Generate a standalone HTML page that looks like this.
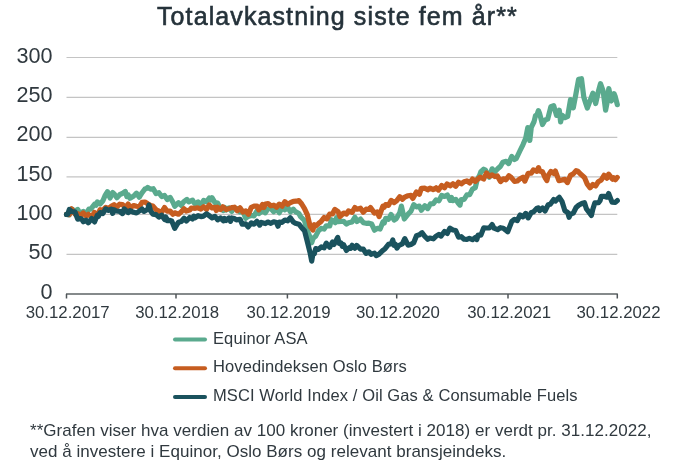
<!DOCTYPE html>
<html><head><meta charset="utf-8"><style>
html,body{margin:0;padding:0;background:#fff;}
body{width:681px;height:467px;position:relative;overflow:hidden;will-change:transform;font-family:"Liberation Sans",sans-serif;color:#30393f;}
.t{position:absolute;white-space:nowrap;}
#title{left:157px;top:1px;font-size:25px;letter-spacing:1.1px;color:#25323a;line-height:30px;-webkit-text-stroke:0.6px #25323a;}
.yl{position:absolute;left:0;width:52.5px;text-align:right;font-size:21.6px;line-height:24px;}
.xl{position:absolute;top:301px;width:120px;text-align:center;font-size:16.8px;line-height:24px;}
.lg{position:absolute;left:213px;font-size:16.5px;line-height:20px;letter-spacing:0.1px;}
.fn{position:absolute;left:30px;font-size:17px;line-height:20px;letter-spacing:0.03px;}
svg{position:absolute;left:0;top:0;}
</style></head><body>
<div class="t" id="title">Totalavkastning siste fem år**</div>
<svg width="681" height="467" viewBox="0 0 681 467">
<line x1="66.5" y1="254.45" x2="617.3" y2="254.45" stroke="#c4c4c4" stroke-width="1.2"/><line x1="66.5" y1="214.40" x2="617.3" y2="214.40" stroke="#c4c4c4" stroke-width="1.2"/><line x1="66.5" y1="176.90" x2="617.3" y2="176.90" stroke="#c4c4c4" stroke-width="1.2"/><line x1="66.5" y1="137.35" x2="617.3" y2="137.35" stroke="#c4c4c4" stroke-width="1.2"/><line x1="66.5" y1="97.45" x2="617.3" y2="97.45" stroke="#c4c4c4" stroke-width="1.2"/><line x1="66.5" y1="57.50" x2="617.3" y2="57.50" stroke="#c4c4c4" stroke-width="1.2"/>
<path d="M66.5,214.4 L69.3,215.0 L72.1,209.1 L74.9,211.4 L77.7,209.4 L79.3,212.2 L80.5,213.5 L83.3,211.4 L85.7,214.4 L88.9,209.2 L90.8,209.1 L94.5,204.2 L96.0,205.2 L97.3,201.9 L100.1,204.0 L102.9,200.7 L105.0,195.7 L107.5,191.7 L110.1,198.0 L111.3,195.2 L112.7,192.5 L114.1,193.9 L116.9,197.7 L119.7,194.7 L122.5,193.3 L125.3,191.4 L126.8,196.6 L128.1,194.7 L130.0,198.3 L133.7,196.0 L136.5,193.2 L139.3,197.2 L142.1,192.7 L144.9,189.0 L146.4,188.6 L147.7,187.4 L150.5,189.1 L153.3,188.7 L156.1,193.6 L158.9,192.7 L161.7,196.5 L164.5,195.5 L167.3,199.5 L170.1,197.4 L172.9,202.3 L174.7,206.3 L178.5,202.7 L181.3,205.4 L183.6,201.8 L186.9,199.5 L188.8,201.8 L192.5,200.1 L193.9,202.5 L195.3,204.1 L198.1,201.9 L200.9,205.0 L203.7,200.4 L206.5,201.8 L209.3,197.9 L210.7,200.0 L212.1,197.7 L214.9,202.6 L217.7,203.1 L220.5,208.7 L223.3,210.5 L224.6,207.4 L226.1,209.9 L228.9,207.9 L231.7,211.5 L233.4,209.2 L237.3,208.7 L240.1,212.0 L242.9,211.4 L245.7,218.3 L248.1,216.4 L251.3,215.5 L254.0,215.9 L256.9,211.1 L258.8,213.6 L262.5,210.9 L265.3,212.8 L267.8,209.0 L270.9,208.5 L273.7,211.7 L276.5,209.0 L279.3,212.8 L282.1,207.9 L284.9,209.8 L287.7,207.3 L290.5,212.0 L293.3,209.2 L295.4,211.6 L298.9,213.5 L300.6,216.7 L304.5,220.5 L307.3,230.6 L310.0,237.0 L311.7,242.8 L312.9,238.9 L314.3,237.2 L315.7,236.1 L318.5,230.6 L321.3,228.4 L324.1,229.1 L326.3,225.8 L329.7,226.0 L331.4,219.7 L335.3,222.7 L336.5,217.7 L338.1,221.6 L340.9,221.3 L343.7,221.4 L346.5,224.1 L348.5,222.8 L352.1,221.9 L354.9,217.3 L357.1,221.5 L360.5,219.1 L363.3,222.7 L366.1,223.3 L368.9,223.2 L371.7,224.1 L374.5,230.2 L377.3,228.3 L380.1,229.1 L382.9,222.0 L384.2,223.1 L385.7,218.3 L388.5,219.3 L391.1,214.5 L394.1,220.1 L396.2,218.8 L399.7,212.8 L401.4,206.1 L404.3,219.0 L408.1,214.1 L410.9,211.2 L413.7,204.7 L415.0,205.6 L416.5,206.9 L419.3,206.1 L421.4,210.2 L424.9,205.7 L427.7,208.6 L430.5,203.8 L433.3,203.6 L436.1,199.9 L438.9,200.9 L441.7,195.4 L444.5,196.5 L447.3,194.9 L450.1,200.4 L451.4,197.4 L452.9,200.6 L455.7,199.3 L458.5,203.5 L460.0,205.1 L461.3,199.5 L464.1,199.3 L466.9,194.8 L469.7,194.6 L472.5,189.1 L475.3,187.7 L477.1,179.8 L479.6,175.4 L480.9,171.7 L483.7,169.2 L485.4,170.1 L489.3,177.2 L492.1,168.8 L494.9,171.8 L497.7,168.8 L500.5,166.3 L502.8,162.3 L506.1,161.3 L508.6,163.6 L511.7,156.5 L514.5,159.5 L516.3,158.5 L520.1,150.5 L522.9,144.8 L525.7,138.2 L527.8,127.6 L529.8,140.5 L531.3,127.3 L534.1,121.5 L535.5,115.7 L536.9,115.0 L538.4,110.6 L539.7,113.8 L542.5,124.5 L545.1,119.9 L547.7,119.1 L550.9,106.7 L553.7,105.6 L556.5,115.4 L559.3,110.3 L560.6,121.9 L562.1,115.3 L564.9,117.7 L567.7,116.3 L570.5,99.6 L573.3,107.8 L576.0,93.4 L578.6,79.3 L581.5,78.7 L583.8,97.1 L585.7,103.1 L587.3,108.0 L590.1,100.6 L592.9,93.1 L595.7,103.5 L598.5,90.9 L600.5,83.7 L603.1,90.8 L605.6,110.2 L606.9,103.8 L608.8,88.5 L611.4,101.0 L614.0,93.6 L615.3,96.8 L617.3,104.7" fill="none" stroke="#5aaa8e" stroke-width="5.2" stroke-linejoin="round" stroke-linecap="round"/><path d="M66.5,214.4 L69.3,214.6 L71.6,208.8 L74.9,213.9 L77.7,213.5 L80.5,215.7 L83.3,212.9 L86.1,215.9 L88.3,214.2 L91.7,216.9 L94.5,212.5 L97.2,216.2 L100.1,209.6 L102.4,210.7 L105.7,207.3 L108.5,208.6 L111.3,206.3 L114.1,204.6 L116.9,207.0 L119.7,204.2 L122.5,204.6 L125.3,207.5 L128.1,204.0 L130.0,207.7 L133.7,205.5 L136.5,206.2 L139.3,206.7 L142.1,202.4 L144.9,202.0 L147.7,203.8 L150.5,205.5 L152.8,206.1 L156.1,209.8 L158.9,211.2 L161.7,212.1 L164.5,207.5 L167.3,211.2 L170.1,211.1 L172.9,214.2 L174.7,212.8 L178.5,214.2 L181.1,212.1 L184.1,208.8 L186.2,211.1 L189.7,210.1 L191.3,208.0 L195.3,208.3 L197.8,207.8 L200.9,209.1 L203.7,206.8 L206.5,209.4 L209.3,205.0 L212.1,208.0 L214.9,207.4 L216.4,210.5 L217.7,207.3 L220.5,209.6 L222.8,206.8 L226.1,209.6 L228.9,208.6 L231.7,207.6 L234.5,207.2 L237.3,210.8 L240.1,207.8 L242.9,212.2 L245.7,211.0 L248.5,214.3 L251.3,207.3 L254.1,206.2 L256.9,206.0 L258.8,209.8 L262.5,204.6 L263.9,207.5 L265.3,204.0 L268.1,203.6 L270.9,205.8 L273.7,205.2 L276.5,207.2 L279.3,204.1 L282.1,206.2 L284.9,201.7 L287.7,204.4 L290.5,202.6 L293.3,201.3 L296.1,201.2 L298.9,200.6 L301.7,204.0 L304.5,208.6 L307.3,214.6 L310.1,226.2 L312.9,230.1 L314.3,224.7 L315.7,226.1 L318.5,223.6 L321.1,221.4 L324.1,217.5 L326.9,218.9 L329.7,214.2 L332.5,214.0 L334.8,209.4 L338.1,211.6 L340.0,216.5 L343.7,213.0 L346.5,214.0 L348.5,210.9 L352.1,212.4 L354.9,207.5 L357.1,209.2 L360.5,208.2 L363.3,212.2 L366.1,209.2 L368.9,209.5 L370.5,207.6 L374.5,213.1 L377.3,211.9 L379.1,216.5 L382.9,206.1 L384.2,207.3 L385.7,204.6 L388.5,205.4 L391.1,200.4 L394.1,202.5 L396.9,200.6 L399.7,196.7 L402.5,199.3 L404.3,197.4 L408.1,195.7 L410.9,195.3 L412.8,198.4 L416.5,191.9 L419.3,194.3 L421.4,188.3 L424.9,188.2 L427.7,189.8 L430.0,188.1 L433.3,189.7 L436.1,187.8 L438.5,190.1 L441.7,185.5 L444.5,187.8 L447.1,183.9 L450.1,185.8 L452.9,183.8 L455.7,186.3 L458.5,182.2 L461.3,183.9 L464.1,181.7 L466.9,180.9 L469.7,183.0 L472.5,179.1 L475.3,181.4 L477.1,179.6 L480.3,177.2 L483.7,179.0 L486.5,173.0 L489.3,176.4 L492.1,174.9 L494.9,176.6 L497.4,175.9 L500.5,181.6 L503.3,178.8 L506.0,179.8 L508.9,175.7 L511.1,177.4 L514.5,181.4 L517.3,181.0 L519.7,179.0 L522.9,177.3 L524.8,181.1 L528.2,173.3 L531.3,173.2 L533.4,169.8 L536.9,171.3 L538.5,167.6 L539.7,170.9 L542.5,171.7 L545.3,178.1 L546.9,180.5 L548.1,175.6 L550.9,171.5 L553.7,173.4 L555.4,171.1 L558.9,180.7 L562.1,179.9 L564.9,179.4 L567.4,182.6 L570.5,175.4 L573.3,173.9 L576.1,170.6 L577.7,171.2 L581.1,174.6 L584.5,177.4 L587.3,184.2 L590.1,187.8 L592.9,184.5 L595.7,186.0 L598.3,181.7 L601.3,179.9 L604.1,175.3 L606.9,178.2 L608.6,174.2 L612.5,179.2 L613.7,177.7 L615.3,179.7 L617.3,177.4" fill="none" stroke="#c65d20" stroke-width="5.2" stroke-linejoin="round" stroke-linecap="round"/><path d="M66.5,214.4 L67.7,214.4 L69.3,209.5 L71.6,211.5 L74.9,211.8 L77.7,219.1 L80.5,218.5 L81.8,219.2 L83.3,221.8 L86.1,220.2 L88.3,222.8 L91.7,218.6 L94.5,221.9 L97.3,215.3 L98.5,216.2 L100.1,212.6 L102.9,213.5 L105.7,208.9 L108.5,210.3 L111.3,209.1 L112.7,213.4 L114.1,209.8 L116.5,211.0 L119.7,211.4 L122.5,213.6 L124.2,208.9 L128.1,212.5 L130.0,210.7 L133.7,212.3 L136.5,213.0 L139.3,211.0 L142.1,209.0 L143.9,211.4 L147.7,209.2 L149.0,205.0 L150.5,210.7 L152.8,214.1 L156.1,214.6 L158.9,217.1 L161.7,215.2 L164.5,219.4 L165.9,217.1 L167.3,220.7 L170.1,220.4 L171.7,220.9 L174.7,228.4 L178.5,222.2 L181.3,221.5 L184.1,218.3 L186.4,221.0 L189.7,217.4 L192.5,219.0 L193.8,216.1 L195.3,217.7 L198.1,215.7 L200.9,216.6 L203.7,216.1 L206.5,213.8 L208.5,215.1 L212.1,217.8 L214.9,216.4 L217.7,219.8 L220.5,217.9 L223.3,220.8 L224.6,218.5 L226.1,220.4 L228.9,218.0 L230.5,221.3 L231.7,217.9 L234.5,218.6 L236.4,219.9 L240.1,219.3 L242.2,224.2 L245.7,223.9 L248.1,226.9 L251.3,222.9 L254.0,224.2 L256.9,221.3 L259.7,225.1 L261.3,222.4 L265.3,223.6 L267.8,222.0 L270.9,223.3 L273.7,221.8 L276.5,222.5 L278.0,226.2 L279.3,222.1 L282.1,222.3 L284.9,220.0 L287.7,220.8 L290.3,217.8 L293.3,222.1 L295.4,223.3 L298.9,224.2 L301.7,227.7 L304.5,230.7 L307.3,241.5 L310.1,252.8 L311.7,261.1 L312.9,254.1 L314.3,253.8 L315.7,248.6 L318.5,249.4 L321.3,246.9 L324.1,247.9 L326.3,243.2 L329.7,247.3 L332.5,242.0 L334.1,244.4 L337.7,237.4 L339.2,243.4 L340.9,242.8 L342.3,246.4 L343.7,244.8 L346.4,250.5 L349.3,247.7 L350.6,248.4 L352.1,245.3 L354.9,248.2 L356.7,245.4 L360.5,249.1 L363.3,249.1 L366.0,253.4 L368.9,251.8 L371.1,254.3 L374.5,253.1 L376.2,255.6 L379.0,254.1 L382.6,250.6 L385.1,248.7 L388.5,244.4 L391.3,243.8 L392.8,240.0 L394.1,245.4 L395.4,244.2 L396.9,248.1 L398.8,245.5 L402.3,243.9 L404.8,238.6 L408.1,245.2 L410.9,244.5 L413.7,242.7 L416.5,235.7 L419.3,234.8 L422.1,232.7 L424.7,236.2 L427.7,239.3 L429.8,238.0 L433.3,238.8 L436.1,236.1 L438.9,234.4 L441.1,236.1 L444.5,231.4 L447.3,233.4 L449.9,228.1 L452.9,230.0 L455.7,230.5 L458.5,237.1 L461.3,236.7 L464.1,239.2 L466.9,239.3 L469.3,238.3 L472.5,239.7 L475.3,237.4 L476.8,239.6 L478.1,235.2 L480.9,235.1 L483.7,227.9 L486.5,228.0 L489.3,228.0 L492.1,224.5 L494.0,228.2 L497.7,229.7 L500.5,227.7 L503.3,228.2 L506.1,230.4 L507.7,231.8 L511.7,221.6 L514.5,219.3 L517.3,220.5 L520.1,215.0 L522.9,216.9 L525.7,213.4 L528.2,217.9 L531.3,212.5 L533.4,212.0 L536.9,208.2 L538.5,207.9 L539.7,210.6 L542.5,208.1 L545.1,210.9 L548.1,204.8 L550.3,204.3 L553.7,199.5 L555.4,201.0 L559.3,197.3 L562.1,201.7 L564.9,210.7 L567.7,212.5 L569.1,217.3 L570.5,214.2 L573.3,213.1 L576.1,207.5 L578.9,205.0 L581.7,203.6 L584.5,202.7 L586.3,208.6 L590.1,213.7 L591.4,215.4 L592.9,209.0 L594.8,202.9 L598.5,202.7 L600.0,200.7 L601.3,196.4 L604.1,196.3 L606.9,197.2 L608.6,193.5 L612.0,202.1 L615.3,202.4 L617.3,200.6" fill="none" stroke="#1a525d" stroke-width="5.2" stroke-linejoin="round" stroke-linecap="round"/>
<line x1="66.0" y1="294.0" x2="617.8" y2="294.0" stroke="#858a8b" stroke-width="2.1"/>
<line x1="66.50" y1="294.0" x2="66.50" y2="298.5" stroke="#4f5558" stroke-width="1.5"/><line x1="176.00" y1="294.0" x2="176.00" y2="298.5" stroke="#4f5558" stroke-width="1.5"/><line x1="287.40" y1="294.0" x2="287.40" y2="298.5" stroke="#4f5558" stroke-width="1.5"/><line x1="396.70" y1="294.0" x2="396.70" y2="298.5" stroke="#4f5558" stroke-width="1.5"/><line x1="508.00" y1="294.0" x2="508.00" y2="298.5" stroke="#4f5558" stroke-width="1.5"/><line x1="617.30" y1="294.0" x2="617.30" y2="298.5" stroke="#4f5558" stroke-width="1.5"/>
<line x1="175" y1="339.5" x2="205" y2="339.5" stroke="#5aaa8e" stroke-width="4" stroke-linecap="round"/>
<line x1="175" y1="368.3" x2="205" y2="368.3" stroke="#c65d20" stroke-width="4" stroke-linecap="round"/>
<line x1="175" y1="397.1" x2="205" y2="397.1" stroke="#1a525d" stroke-width="4" stroke-linecap="round"/>
</svg>
<div class="yl" style="top:279.5px">0</div><div class="yl" style="top:240.1px">50</div><div class="yl" style="top:200.8px">100</div><div class="yl" style="top:161.5px">150</div><div class="yl" style="top:122.2px">200</div><div class="yl" style="top:82.8px">250</div><div class="yl" style="top:43.5px">300</div>
<div class="xl" style="left:7.7px">30.12.2017</div><div class="xl" style="left:117.2px">30.12.2018</div><div class="xl" style="left:228.6px">30.12.2019</div><div class="xl" style="left:337.9px">30.12.2020</div><div class="xl" style="left:449.2px">30.12.2021</div><div class="xl" style="left:558.5px">30.12.2022</div>
<div class="lg" style="top:328px">Equinor ASA</div>
<div class="lg" style="top:356.3px">Hovedindeksen Oslo Børs</div>
<div class="lg" style="top:384.8px">MSCI World Index / Oil Gas &amp; Consumable Fuels</div>
<div class="fn" style="top:421px">**Grafen viser hva verdien av 100 kroner (investert i 2018) er verdt pr. 31.12.2022,</div>
<div class="fn" style="top:442px">ved å investere i Equinor, Oslo Børs og relevant bransjeindeks.</div>
</body></html>
